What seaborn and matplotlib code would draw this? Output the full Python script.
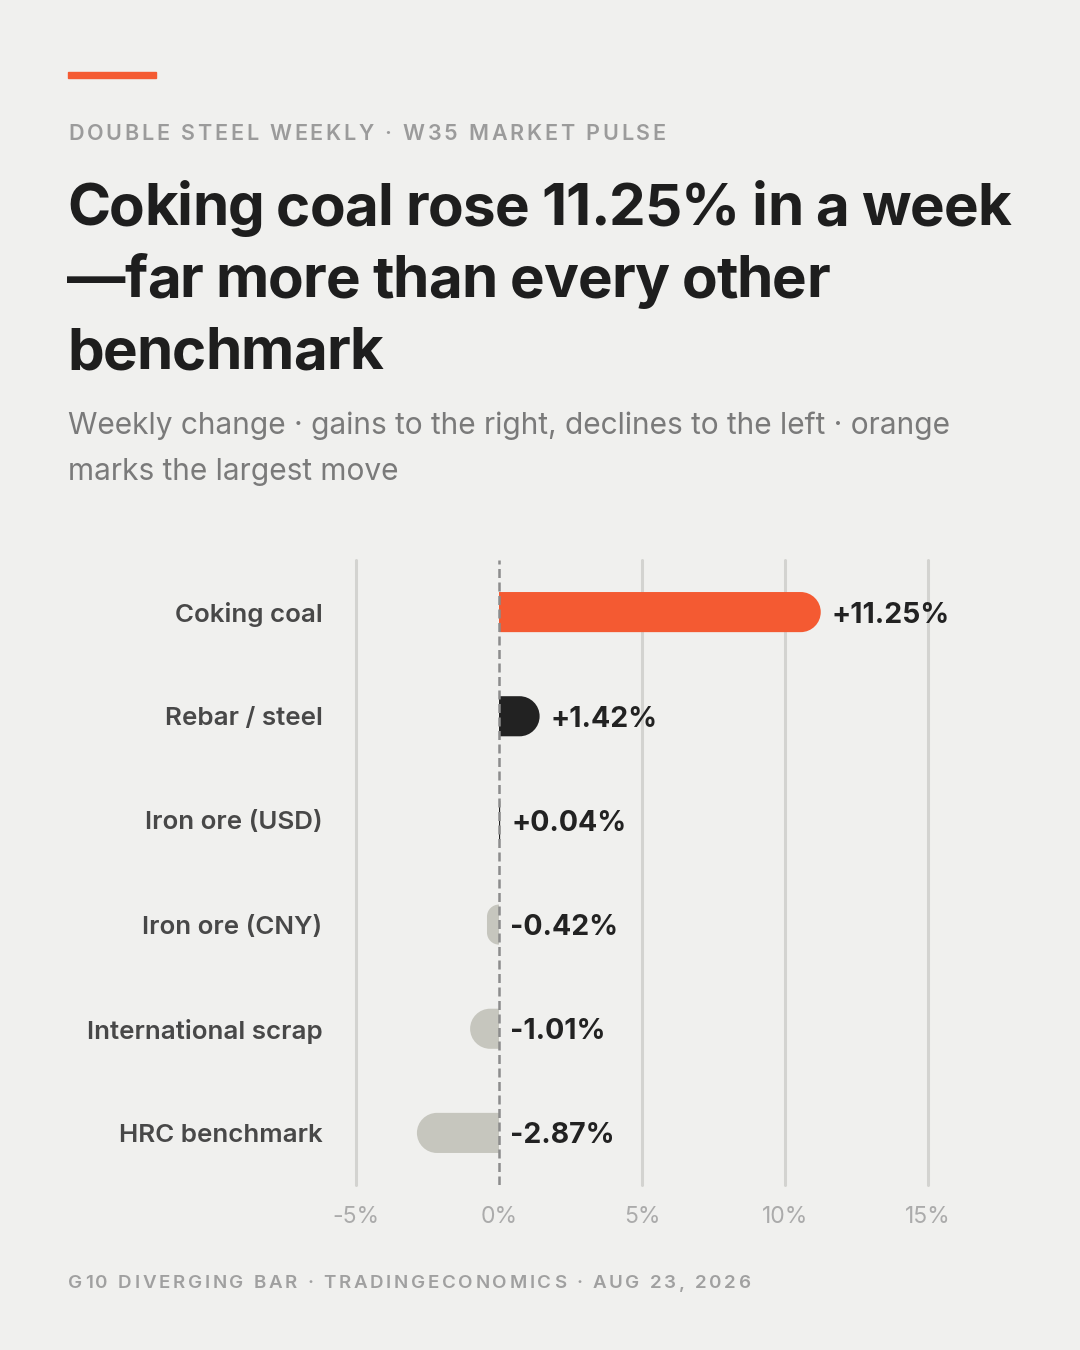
import matplotlib
matplotlib.use("Agg")
import matplotlib.pyplot as plt
import seaborn as sns
import numpy as np
from matplotlib.path import Path
from matplotlib.patches import PathPatch, Rectangle

categories = ["Coking coal", "Rebar / steel", "Iron ore (USD)", "Iron ore (CNY)",
              "International scrap", "HRC benchmark"]
changes = [11.25, 1.42, 0.04, -0.42, -1.01, -2.87]
tick_vals = [-5, 0, 5, 10, 15]
tick_labels = ["-5%", "0%", "5%", "10%", "15%"]

kicker = "DOUBLE STEEL WEEKLY · W35 MARKET PULSE"
title_lines = ["Coking coal rose 11.25% in a week",
               "—far more than every other",
               "benchmark"]
subtitle_lines = ["Weekly change · gains to the right, declines to the left · orange",
                  "marks the largest move"]
footer = "G10 DIVERGING BAR · TRADINGECONOMICS · AUG 23, 2026"

BG = "#F0F0EE"
ORANGE = "#F45A32"
DARK = "#222222"
NEG = "#C6C6BE"

big = int(np.argmax(np.abs(changes)))
colors = [ORANGE if i == big else (DARK if v >= 0 else NEG) for i, v in enumerate(changes)]

sns.set_style("white")
plt.rcParams["font.family"] = ["Inter", "DejaVu Sans"]

W, H = 1080, 1350
fig = plt.figure(figsize=(W / 100, H / 100), dpi=100, facecolor=BG)


def fy(y):
    return 1 - y / H


def spaced(x, y, s, track, **kw):
    # draw text letter by letter so the tracking can be set
    r = fig.canvas.get_renderer()

    def width(txt):
        t = fig.text(0, 0, txt, **kw)
        w = t.get_window_extent(r).width
        t.remove()
        return w
    for i, ch in enumerate(s):
        if ch == " ":
            continue
        left = width(s[:i + 1]) - width(ch) + i * track
        fig.text((x + left) / W, fy(y), ch, va="baseline", ha="left", **kw)


fig.patches.append(Rectangle((68 / W, fy(78)), 88 / W, 6 / H, transform=fig.transFigure,
                             color=ORANGE, figure=fig))

spaced(68, 140, kicker, 2.8, fontsize=15.5, fontweight="semibold", color="#9B9B9B")

for i, line in enumerate(title_lines):
    spaced(67, 225 + 72 * i, line, -0.9, fontsize=42, fontweight="bold", color="#1E1E1E")

for i, line in enumerate(subtitle_lines):
    fig.text(68 / W, fy(434 + 46 * i), line, fontsize=21.5, color="#7A7A7A",
             va="baseline", ha="left")

spaced(68, 1288, footer, 2.7, fontsize=13.5, fontweight="semibold", color="#A0A0A0")

# chart area
ax = fig.add_axes([356 / W, fy(1185), (928 - 356) / W, (1185 - 560) / H])
ax.set_facecolor(BG)
sns.barplot(x=changes, y=categories, hue=categories, palette=colors, legend=False,
            orient="h", width=0.385, ax=ax, saturation=1)
ax.set_xlim(-5, 15)
ax.set_ylim(len(categories) - 0.5, -0.5)

# swap square bars for bars with a rounded outer end
px_x = (928 - 356) / 20
px_y = (1185 - 560) / len(categories)
k = 0.5523
for p in list(ax.patches):
    yc = p.get_y() + p.get_height() / 2
    i = int(round(yc))
    v = changes[i]
    s = 1 if v >= 0 else -1
    ya, yz = p.get_y(), p.get_y() + p.get_height()
    ya, yz = min(ya, yz), max(ya, yz)
    h_px = (yz - ya) * px_y
    w_px = abs(v) * px_x
    r = min(h_px / 2, w_px)
    rx, ry = r / px_x, r / px_y
    verts = [(0, ya), (v - s * rx, ya),
             (v - s * rx + s * rx * k, ya), (v, ya + ry - ry * k), (v, ya + ry),
             (v, yz - ry),
             (v, yz - ry + ry * k), (v - s * rx + s * rx * k, yz), (v - s * rx, yz),
             (0, yz), (0, ya)]
    codes = [Path.MOVETO, Path.LINETO,
             Path.CURVE4, Path.CURVE4, Path.CURVE4,
             Path.LINETO,
             Path.CURVE4, Path.CURVE4, Path.CURVE4,
             Path.LINETO, Path.CLOSEPOLY]
    ax.add_patch(PathPatch(Path(verts, codes), facecolor=p.get_facecolor(),
                           edgecolor="none", zorder=3))
    p.remove()

for xv in tick_vals:
    if xv != 0:
        ax.axvline(xv, color="#D3D3D0", lw=2.2, zorder=1, clip_on=False)
ax.axvline(0, color="#8C8C8C", lw=1.8, ls=(0, (3.6, 1.8)), zorder=5)

for i, v in enumerate(changes):
    ax.annotate(f"{v:+.2f}%", xy=(max(v, 0), i), xytext=(8, 0), textcoords="offset points",
                va="center_baseline", ha="left", fontsize=20.5, fontweight="bold",
                color=DARK, zorder=6)

ax.set_xticks(tick_vals)
ax.set_xticklabels(tick_labels)
ax.tick_params(axis="x", length=0, pad=15, labelsize=16.5, labelcolor="#ABABAB")
ax.tick_params(axis="y", length=0, pad=24, labelsize=18.7, labelcolor="#484848")
for lab in ax.get_yticklabels():
    lab.set_fontweight("semibold")
ax.set_xlabel("")
ax.set_ylabel("")
sns.despine(ax=ax, left=True, bottom=True)

fig.savefig("out.png", dpi=100, facecolor=BG)
